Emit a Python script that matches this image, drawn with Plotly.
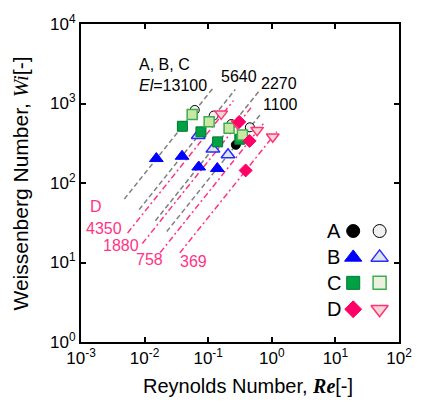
import plotly.graph_objects as go

# ---------------- data ----------------
# Series A (filled / open circles)
A_fill_re = [0.0393, 0.0769, 0.1406, 0.272]
A_fill_wi = [517, 440, 329, 302]
A_open_re = [0.0615, 0.122, 0.231, 0.452]
A_open_wi = [830, 706, 552, 502]
# Series B (triangles)
B_fill_re = [0.0153, 0.0388, 0.0710, 0.139]
B_fill_wi = [203, 217, 159, 152]
B_open_re = [0.0697, 0.1186, 0.205]
B_open_wi = [395, 267, 227]
# Series C (squares)
C_fill_re = [0.0393, 0.0769, 0.1406, 0.314]
C_fill_wi = [517, 440, 329, 355]
C_open_re = [0.056, 0.1035, 0.213, 0.345]
C_open_wi = [726, 590, 489, 401]
# Series D (diamonds / down triangles)
D_fill_re = [0.308, 0.448, 0.388]
D_fill_wi = [587, 338, 144]
D_open_re = [0.160, 0.29, 0.588, 1.035]
D_open_wi = [741, 560, 462, 382]

# Elasticity lines  Wi = El * Re
El_ABC = [13100, 5640, 2270, 1100]
El_ABC_re_lo = [0.0048, 0.0082, 0.0148, 0.0223]
El_ABC_re_hi = [0.119, 0.266, 0.64, 0.69]
El_D = [4350, 1880, 758, 369]
El_D_re_lo = [0.0054, 0.0092, 0.0176, 0.0358]
El_D_re_hi = [0.25, 0.48, 0.75, 1.2]

x_tickvals = [1e-3, 1e-2, 1e-1, 1e0, 1e1, 1e2]
x_ticktext = ["10<sup>-3</sup>", "10<sup>-2</sup>", "10<sup>-1</sup>", "10<sup>0</sup>",
              "10<sup>1</sup>", "10<sup>2</sup>"]
y_tickvals = [1e0, 1e1, 1e2, 1e3, 1e4]
y_ticktext = ["10<sup>0</sup>", "10<sup>1</sup>", "10<sup>2</sup>", "10<sup>3</sup>", "10<sup>4</sup>"]

# ---------------- styles ----------------
SANS = "Liberation Sans, Arial, sans-serif"
GREY = "#7f7f7f"
PINK = "#ff3385"
PINK_D = "#ff0066"
BLUE = "#0000ff"
GREEN = "#00a044"
GREEN_L = "#c9e8a4"

styles = {
    "A_fill": dict(symbol="circle", color="#000000", line=dict(color="#000000", width=1)),
    "A_open": dict(symbol="circle", color="#f0f0f0", line=dict(color="#000000", width=1)),
    "B_fill": dict(symbol="triangle-up", color=BLUE, line=dict(color=BLUE, width=1)),
    "B_open": dict(symbol="triangle-up", color="#dce6f2", line=dict(color="#2a2aff", width=1.5)),
    "C_fill": dict(symbol="square", color=GREEN, line=dict(color="#007a30", width=1)),
    "C_open": dict(symbol="square", color=GREEN_L, line=dict(color="#3cae50", width=1.5)),
    "D_fill": dict(symbol="diamond", color=PINK_D, line=dict(color=PINK_D, width=1)),
    "D_open": dict(symbol="triangle-down", color="#f4d6d6", line=dict(color="#ff3377", width=1.5)),
}
sizes = {"A_fill": 9, "A_open": 9, "B_fill": 12, "B_open": 12, "C_fill": 10, "C_open": 10,
         "D_fill": 10, "D_open": 11}

fig = go.Figure()

# lines
for el, lo, hi in zip(El_ABC, El_ABC_re_lo, El_ABC_re_hi):
    xs = [lo, hi]
    fig.add_trace(go.Scatter(x=xs, y=[el * v for v in xs], mode="lines",
                             line=dict(color=GREY, width=1.5, dash="5px,3px"),
                             hoverinfo="skip", showlegend=False))
for el, lo, hi in zip(El_D, El_D_re_lo, El_D_re_hi):
    xs = [lo, hi]
    fig.add_trace(go.Scatter(x=xs, y=[el * v for v in xs], mode="lines",
                             line=dict(color=PINK, width=1.5, dash="6px,3px,2px,3px"),
                             hoverinfo="skip", showlegend=False))

series = [
    ("A_fill", A_fill_re, A_fill_wi), ("A_open", A_open_re, A_open_wi),
    ("B_fill", B_fill_re, B_fill_wi), ("B_open", B_open_re, B_open_wi),
    ("C_fill", C_fill_re, C_fill_wi), ("C_open", C_open_re, C_open_wi),
    ("D_open", D_open_re, D_open_wi), ("D_fill", D_fill_re, D_fill_wi),
]
for key, xs, ys in series:
    st = styles[key]
    fig.add_trace(go.Scatter(x=xs, y=ys, mode="markers", name=key,
                             marker=dict(symbol=st["symbol"], size=sizes[key], color=st["color"],
                                         line=st["line"]),
                             showlegend=False))

# manual legend on overlay axes
leg_fill_override = {"C_open": "#ebf1de"}
leg_rows = [("A", 0.349, "A_fill", "A_open", 13),
            ("B", 0.266, "B_fill", "B_open", 15),
            ("C", 0.186, "C_fill", "C_open", 13),
            ("D", 0.103, "D_fill", "D_open", 15)]
for letter, yy, kf, ko, sz in leg_rows:
    for key, xx in ((kf, 0.856), (ko, 0.939)):
        st = styles[key]
        s = 13 if key == "D_fill" else sz
        fig.add_trace(go.Scatter(x=[xx], y=[yy], xaxis="x2", yaxis="y2", mode="markers",
                                 marker=dict(symbol=st["symbol"], size=s,
                                             color=leg_fill_override.get(key, st["color"]),
                                             line=st["line"]),
                                 showlegend=False, hoverinfo="skip"))
    fig.add_annotation(x=0.795, y=yy, xref="paper", yref="paper", text=letter,
                       showarrow=False, font=dict(family=SANS, size=20, color="#000000"),
                       xanchor="center", yanchor="middle")

# line labels (x, y in log10 data units)
def lab(text, lx, ly, color, anchor="left", size=16):
    fig.add_annotation(x=lx, y=ly, xref="x", yref="y", text=text, showarrow=False,
                       font=dict(family=SANS, size=size, color=color),
                       xanchor=anchor, yanchor="middle")

lab("A, B, C", -2.118, 3.488, "#000000")
lab("<i>El</i>=13100", -2.118, 3.230, "#000000")
lab("5640", -0.826, 3.341, "#000000")
lab("2270", -0.195, 3.255, "#000000")
lab("1100", -0.163, 2.983, "#000000")
lab("D", -2.888, 1.705, PINK)
lab("4350", -2.318, 1.434, PINK, anchor="right")
lab("1880", -2.057, 1.213, PINK, anchor="right")
lab("758", -1.672, 1.041, PINK, anchor="right")
lab("369", -1.472, 1.016, PINK, anchor="left")

# axis titles
fig.add_annotation(x=-0.19, y=0.497, xref="paper", yref="paper", textangle=-90,
                   text="Weissenberg Number, <span style=\"font-family:Liberation Serif\"><i>Wi</i></span>[-]",
                   showarrow=False, font=dict(family=SANS, size=21, color="#000000"),
                   xanchor="center", yanchor="middle")
fig.add_annotation(x=0.524, y=-0.139, xref="paper", yref="paper",
                   text="Reynolds Number, <span style=\"font-family:Liberation Serif\"><b><i>Re</i></b></span>[-]",
                   showarrow=False, font=dict(family=SANS, size=20, color="#000000"),
                   xanchor="center", yanchor="middle")

axis_common = dict(showline=True, linecolor="#000000", linewidth=2, mirror="ticks",
                   ticks="inside", ticklen=5, tickwidth=1.5, tickcolor="#000000",
                   showgrid=False, zeroline=False,
                   tickfont=dict(family=SANS, size=17, color="#000000"))
fig.update_layout(
    width=424, height=404,
    margin=dict(l=81, r=18, t=16, b=62),
    paper_bgcolor="#ffffff", plot_bgcolor="#ffffff",
    xaxis=dict(type="log", range=[-3, 2], tickvals=x_tickvals, ticktext=x_ticktext, **axis_common),
    yaxis=dict(type="log", range=[0, 4], tickvals=y_tickvals, ticktext=y_ticktext, **axis_common),
    xaxis2=dict(range=[0, 1], overlaying="x", visible=False, fixedrange=True),
    yaxis2=dict(range=[0, 1], overlaying="y", visible=False, fixedrange=True),
    showlegend=False,
)
fig.write_html("out.html")
